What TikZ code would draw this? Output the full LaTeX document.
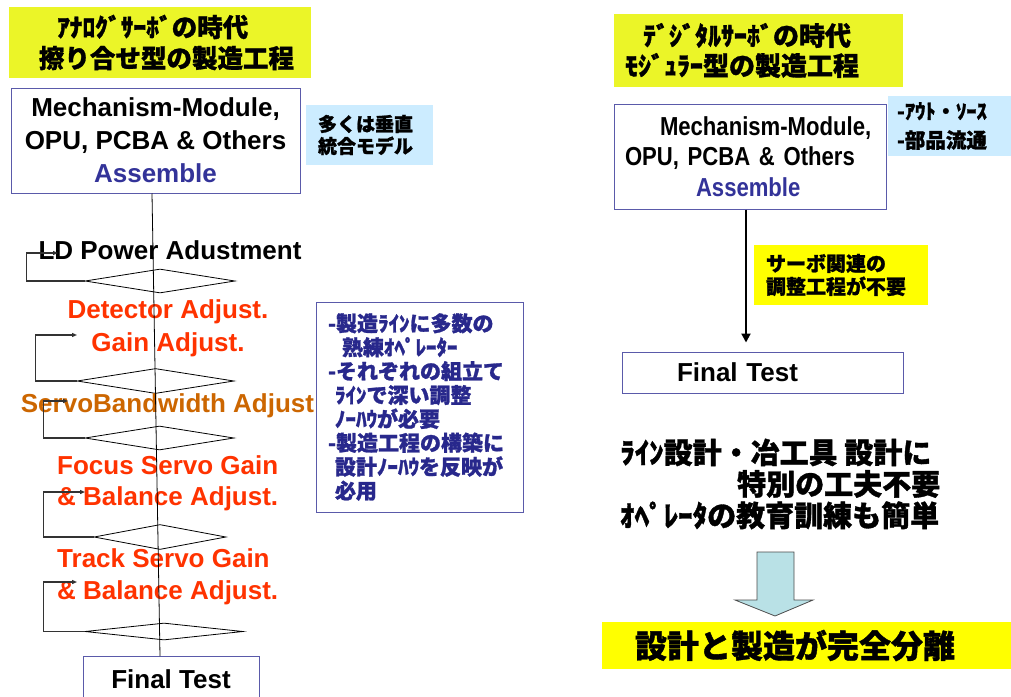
\documentclass[tikz,border=0pt]{standalone}
\usepackage{fontspec}
\setmainfont{Liberation Sans}
\newfontfamily\jp{Noto Sans CJK JP}[BoldFeatures={FakeBold=1.2}]
\newfontfamily\narrowsf[FakeStretch=0.85,WordSpace=1.7]{Liberation Sans}
\usetikzlibrary{shapes.geometric,arrows.meta}
\definecolor{titleyellow}{RGB}{235,245,40}
\definecolor{lightblue}{RGB}{204,236,255}
\definecolor{boxblue}{RGB}{90,90,170}
\definecolor{assemblec}{RGB}{51,51,153}
\definecolor{notetext}{RGB}{40,40,140}
\definecolor{redc}{RGB}{255,51,0}
\definecolor{orangec}{RGB}{204,102,0}
\definecolor{arrowfill}{RGB}{185,225,230}
\definecolor{brightyellow}{RGB}{255,255,0}
\begin{document}
\begin{tikzpicture}[x=1pt,y=-1pt,
  en/.style={font=\fontsize{26}{33}\selectfont\bfseries, inner sep=0},
  box/.style={draw=boxblue, line width=1pt, fill=white},
  dia/.style={diamond, draw, line width=0.8pt, inner sep=0},
  loopline/.style={draw=black!80, line width=1.2pt, -{Triangle[length=5pt,width=4pt]}},
  jtitle/.style={font=\jp\bfseries\fontsize{26}{31}\selectfont, inner sep=0, align=left}]
\clip (0,0) rectangle (1011,696);
\fill[white] (0,0) rectangle (1011,696);

% ---------- left side ----------
\node[jtitle, fill=titleyellow, minimum width=302, minimum height=71, text width=302, font=\jp\bfseries\fontsize{25.5}{31}\selectfont] (ltitle) at (160,42.5)
  {\hspace*{48pt}ｱﾅﾛｸﾞｻｰﾎﾞの時代\\\hspace*{30pt}擦り合せ型の製造工程};

\node[box, en, minimum width=289, minimum height=105, align=center] (lbox) at (155.5,140.5)
  {Mechanism-Module,\\OPU, PCBA \& Others\\\textcolor{assemblec}{Assemble}};

\node[fill=lightblue, minimum width=127, minimum height=60, text width=127, inner sep=0, align=left,
  font=\jp\bfseries\fontsize{19}{22}\selectfont] (lnote) at (369.5,135)
  {\hspace*{12pt}多くは垂直\\\hspace*{12pt}統合モデル};

\node[en] (ld) at (170,250) {LD Power Adustment};
\node[dia, minimum width=150, minimum height=24] (d1) at (160,281) {};
\node[en, text=redc, align=center] (det) at (168,328.5) {Detector Adjust.\\Gain Adjust.};
\node[dia, minimum width=157, minimum height=25] (d2) at (155.5,381) {};
\node[en, text=orangec] (servo) at (167.5,406) {ServoBandwidth Adjust};
\node[dia, minimum width=149, minimum height=24] (d3) at (159.5,438) {};
\node[en, text=redc, align=left, anchor=west, font=\fontsize{26}{31}\selectfont\bfseries] (focus) at (57,483.5) {Focus Servo Gain\\\& Balance Adjust.};
\node[dia, minimum width=132, minimum height=25] (d4) at (160,537) {};
\node[en, text=redc, align=left, anchor=west, font=\fontsize{26}{32}\selectfont\bfseries] (track) at (57,577) {Track Servo Gain\\\& Balance Adjust.};
\node[dia, minimum width=158, minimum height=17] (d5) at (164,631.5) {};
\node[box, en, minimum width=176, minimum height=46, anchor=north] (lft) at (171,656) {Final Test};

\coordinate (a1) at (58,253);
\coordinate (a2) at (77,335);
\coordinate (a3) at (68,401);
\coordinate (a4) at (85,492);
\coordinate (a5) at (77,582);
\draw[loopline] (d1.west) -- ++(-58,0) |- (a1);
\draw[loopline] (d2.west) -- ++(-41,0) |- (a2);
\draw[loopline] (d3.west) -- ++(-41,0) |- (a3);
\draw[loopline] (d4.west) -- ++(-50,0) |- (a4);
\draw[loopline] (d5.west) -- ++(-41,0) |- (a5);

\draw[line width=0.8pt] ([xshift=-3.5pt]lbox.south) -- ([xshift=-11pt]lft.north);

\node[draw=boxblue, line width=1pt, minimum width=207, minimum height=210, text width=207, inner sep=0,
  align=left, text=notetext, font=\jp\bfseries\fontsize{21}{23.9}\selectfont] (mnote) at (419.5,407)
  {\hspace*{12pt}-製造ﾗｲﾝに多数の\\
   \hspace*{26pt}熟練ｵﾍﾟﾚｰﾀｰ\\
   \hspace*{12pt}-それぞれの組立て\\
   \hspace*{19pt}ﾗｲﾝで深い調整\\
   \hspace*{19pt}ﾉｰﾊｳが必要\\
   \hspace*{12pt}-製造工程の構築に\\
   \hspace*{19pt}設計ﾉｰﾊｳを反映が\\
   \hspace*{19pt}必用};

% ---------- right side ----------
\node[jtitle, fill=titleyellow, minimum width=289, minimum height=73, text width=289, font=\jp\bfseries\fontsize{26}{30}\selectfont] (rtitle) at (758.5,50.5)
  {\hspace*{29pt}ﾃﾞｼﾞﾀﾙｻｰﾎﾞの時代\\\hspace*{11pt}ﾓｼﾞｭﾗｰ型の製造工程};

\node[box, minimum width=272, minimum height=105, text width=272, inner sep=0, align=left,
  font=\narrowsf\bfseries\fontsize{26}{30.5}\selectfont] (rbox) at (750,156.5)
  {\hspace*{46pt}Mechanism-Module,\\\hspace*{11pt}OPU, PCBA \& Others\\\hspace*{82pt}\textcolor{assemblec}{Assemble}};

\node[fill=lightblue, minimum width=123, minimum height=60, text width=123, inner sep=0, align=left,
  font=\jp\bfseries\fontsize{20.5}{29}\selectfont] (rnote) at (949.5,126)
  {\hspace*{9pt}-ｱｳﾄ・ｿｰｽ\\\hspace*{9pt}-部品流通};

\node[fill=brightyellow, minimum width=174, minimum height=60, text width=174, inner sep=0, align=left,
  font=\jp\bfseries\fontsize{20}{23}\selectfont] (snote) at (841,275)
  {\hspace*{12pt}サーボ関連の\\\hspace*{12pt}調整工程が不要};

\node[box, minimum width=281, minimum height=41, text width=281, inner sep=0, align=left,
  font=\bfseries\fontsize{26}{30}\selectfont] (rft) at (762.5,372.5) {\hspace*{55pt}Final Test};

\draw[line width=2pt, -{Triangle[length=9pt,width=9pt]}, shorten >=9pt]
  ([xshift=-4pt]rbox.south) -- ([xshift=-4pt]rbox.south |- rft.north);

\node[anchor=west, inner sep=0, align=left, font=\jp\bfseries\fontsize{29}{31.5}\selectfont] (rtext) at (620,484)
  {ﾗｲﾝ設計・冶工具 設計に\\\hspace*{117pt}特別の工夫不要\\ｵﾍﾟﾚｰﾀの教育訓練も簡単};

\draw[fill=arrowfill, draw=black!70, line width=0.8pt]
  (757,552) -- (794,552) -- (794,600) -- (813,600) -- (775,616) -- (735,600) -- (757,600) -- cycle;

\node[fill=brightyellow, minimum width=409, minimum height=47, text width=409, inner sep=0, align=left,
  font=\jp\bfseries\fontsize{32}{36}\selectfont] (sep) at (806.5,645.5)
  {\hspace*{33pt}設計と製造が完全分離};
\end{tikzpicture}
\end{document}
